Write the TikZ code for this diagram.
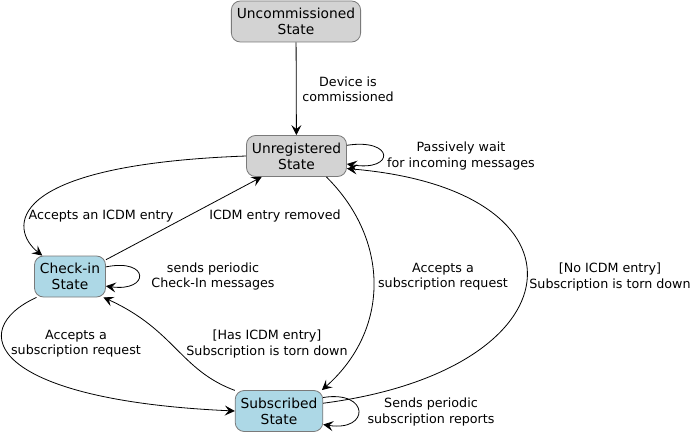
\documentclass[tikz,border=0pt]{standalone}
\usepackage{fontspec}
\setmainfont{DejaVu Sans}
\usetikzlibrary{arrows.meta}
\definecolor{stategray}{HTML}{D3D3D3}
\definecolor{stateblue}{HTML}{ADD8E6}
\definecolor{bordergray}{HTML}{7A7A7A}

\begin{document}
\begin{tikzpicture}[x=1pt,y=-1pt,>={Stealth[length=10pt,width=10pt,inset=4pt]},line width=0.8pt,
	every node/.style={font=\fontsize{12.7}{15.2}\selectfont,align=center},
	state/.style={draw=bordergray,rounded corners=9pt,minimum height=41pt,inner xsep=5.5pt,
		font=\fontsize{13.8}{16}\selectfont},
	graystate/.style={state,fill=stategray},
	bluestate/.style={state,fill=stateblue}]
			\useasboundingbox (0,0) rectangle (690,433);

			\node[graystate] (1) at (296,21.5) {Uncommissioned\\State};
			\node[graystate] (2) at (296.5,156) {Unregistered\\State};
			\node[bluestate] (3) at (70,276.5) {Check-in\\State};
			\node[bluestate] (4) at (279,411) {Subscribed\\State};

			% labels
			\node (l12) at (348,89) {Device is\\commissioned};
			\node (l22) at (461,156) {Passively wait\\for incoming messages};
			\node (l23) at (101,216) {Accepts an ICDM entry};
			\node (l32) at (275,216) {ICDM entry removed};
			\node (l33) at (213,276.5) {sends periodic\\Check-In messages};
			\node (l34) at (76,344) {Accepts a\\subscription request};
			\node (l43) at (267,344) {[Has ICDM entry]\\Subscription is torn down};
			\node (l24) at (443,277) {Accepts a\\subscription request};
			\node (l42) at (610,277) {[No ICDM entry]\\Subscription is torn down};
			\node (l44) at (431,412) {Sends periodic\\subscription reports};

			\draw[->] (1) -- (2);
			\draw[->] (2.12) .. controls (395,138) and (395,172) .. (2.-9);
			\draw[->] (2.west) .. controls (0,165) and (10,230) .. (3.143);
			\draw[->] (3.25) -- (2.-149);
			\draw[->] (3.15) .. controls (150,258) and (150,292) .. (3.-15);
			\draw[->] (3.-148) .. controls (-35,330) and (-10,400) .. (4.west);
			\draw[->] (4.155) .. controls (180,370) and (175,330) .. (3.-32);
			\draw[->] (2.-35) .. controls (390,240) and (390,330) .. (4.26);
			\draw[->] (4.10) .. controls (580,370) and (600,190) .. (2.-14);
			\draw[->] (4.17) .. controls (370,390) and (370,432) .. (4.-17);
		\end{tikzpicture}
\end{document}
